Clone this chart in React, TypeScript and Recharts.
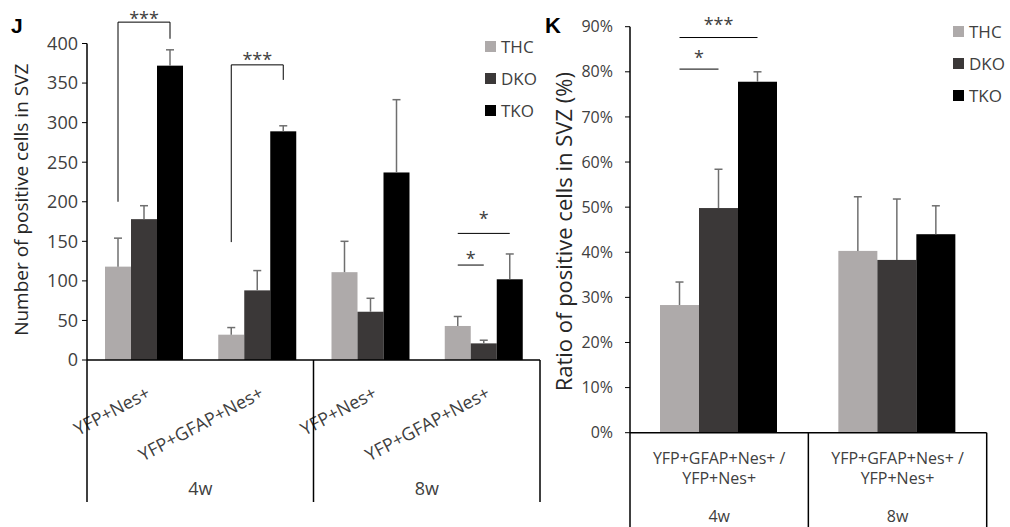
import React from 'react';
import { Bar, BarChart, Legend, XAxis, YAxis } from 'recharts';

// ---- panel J: cell counts ----
const jCats = ['YFP+Nes+', 'YFP+GFAP+Nes+', 'YFP+Nes+', 'YFP+GFAP+Nes+'];
const jWeeks = ['4w', '4w', '8w', '8w'];
const jThc = [118, 32, 111, 43];
const jThcErr = [36, 9, 39, 12];
const jDko = [178, 88, 61, 21];
const jDkoErr = [17, 25, 17, 4];
const jTko = [372, 289, 237, 102];
const jTkoErr = [20, 7, 92, 32];
const jTicks = [0, 50, 100, 150, 200, 250, 300, 350, 400];

// ---- panel K: ratio (%) ----
const kCats = ['YFP+GFAP+Nes+ / YFP+Nes+', 'YFP+GFAP+Nes+ / YFP+Nes+'];
const kWeeks = ['4w', '8w'];
const kThc = [28.3, 40.3];
const kThcErr = [5.1, 12.0];
const kDko = [49.8, 38.3];
const kDkoErr = [8.6, 13.5];
const kTko = [77.8, 44.0];
const kTkoErr = [2.2, 6.3];
const kTicks = [0, 10, 20, 30, 40, 50, 60, 70, 80, 90];

const seriesNames = ['THC', 'DKO', 'TKO'];
const seriesColors = ['#aeaaaa', '#3b3838', '#000000'];

// significance marks: bar index within group (0 THC .. 2 TKO), levels in data units
type Note = { idx: number; from: number; to: number; left: number; top: number; right: number; text: string; textAt: number };
const jNotes: Note[] = [
  { idx: 0, from: 0, to: 2, left: 200, top: 427, right: 406, text: '***', textAt: 436 },
  { idx: 1, from: 0, to: 2, left: 149, top: 373, right: 354, text: '***', textAt: 384 },
  { idx: 3, from: 0, to: 1, left: 120, top: 120, right: 120, text: '*', textAt: 133 },
  { idx: 3, from: 0, to: 2, left: 160, top: 160, right: 160, text: '*', textAt: 183 },
];
const kNotes: Note[] = [
  { idx: 0, from: 0, to: 1, left: 80.6, top: 80.6, right: 80.6, text: '*', textAt: 84 },
  { idx: 0, from: 0, to: 2, left: 87.6, top: 87.6, right: 87.6, text: '***', textAt: 91.3 },
];

const jIds = jCats.map((c, i) => `${jWeeks[i]} ${c}`);
const kIds = kCats.map((c, i) => `${kWeeks[i]} ${c}`);

const jData = jIds.map((id, i) => ({
  id, thc: jThc[i], dko: jDko[i], tko: jTko[i],
}));
const kData = kIds.map((id, i) => ({
  id, thc: kThc[i], dko: kDko[i], tko: kTko[i],
}));

const TEXT = '#404040';
const ERR = '#6f6f6f';

// layout
const J_W = 545;
const J_H = 527;
const J_TOP = 43.5;
const J_YW = 87;
const J_RIGHT = 5;
const J_XH = 167;
const J_BAND = (J_W - J_YW - J_RIGHT) / jCats.length;

const K_W = 470;
const K_H = 527;
const K_TOP = 26.7;
const K_YW = 90;
const K_RIGHT = 23.3;
const K_XH = 94.3;
const K_BAND = (K_W - K_YW - K_RIGHT) / kCats.length;

function makeShape(vals: number[], errs: number[], ids: string[], notes: Note[] | null) {
  return (props: any) => {
    const { x, y, width, height, fill, payload } = props;
    const i = typeof props.index === 'number' ? props.index : ids.indexOf(payload?.id);
    const v = vals[i];
    const per = v ? height / v : 0;
    const base = y + height;
    const cx = x + width / 2;
    const ey = y - errs[i] * per;
    const toY = (val: number) => base - val * per;
    const mine = notes ? notes.filter((n) => n.idx === i) : [];
    return (
      <g>
        <rect x={x} y={y} width={width} height={height} fill={fill} />
        <line x1={cx} x2={cx} y1={y} y2={ey} stroke={ERR} strokeWidth={1.5} />
        <line x1={cx - 4} x2={cx + 4} y1={ey} y2={ey} stroke={ERR} strokeWidth={1.5} />
        {mine.map((n, k) => {
          const x1 = cx - (2 - n.from) * width;
          const x2 = cx - (2 - n.to) * width;
          return (
            <g key={k}>
              <path
                d={`M${x1},${toY(n.left)}V${toY(n.top)}H${x2}V${toY(n.right)}`}
                fill="none"
                stroke="#000"
                strokeWidth={1}
              />
              <text x={(x1 + x2) / 2} y={toY(n.textAt) + 10} textAnchor="middle" fontSize={18} fill={TEXT}>
                {n.text}
              </text>
            </g>
          );
        })}
      </g>
    );
  };
}

function LegendBox({ payload }: any) {
  const items = seriesNames.map((s, i) => {
    const hit = (payload ?? []).find((e: any) => e.value === s);
    return { value: s, color: hit?.color ?? seriesColors[i] };
  });
  return (
    <div>
      {items.map((e) => (
        <div key={e.value} style={{ display: 'flex', alignItems: 'center', height: 32, fontSize: 17, color: TEXT }}>
          <span style={{ display: 'inline-block', width: 11, height: 11, background: e.color, marginRight: 5 }} />
          {e.value}
        </div>
      ))}
    </div>
  );
}

function yTitle(text: string, x: number, fontSize: number, dy: number) {
  return (p: any) => {
    const vb = p.viewBox ?? {};
    const cy = (vb.y ?? 0) + (vb.height ?? 0) / 2 + dy;
    return (
      <text x={x} y={cy} transform={`rotate(-90 ${x} ${cy})`} textAnchor="middle" fontSize={fontSize} fill="#262626">
        {text}
      </text>
    );
  };
}

function groupInfo(weeks: string[], i: number) {
  const first = i === 0 || weeks[i] !== weeks[i - 1];
  let count = 0;
  for (let k = i; k < weeks.length && weeks[k] === weeks[i]; k++) count++;
  return { first, count, last: i === weeks.length - 1 };
}

function JTick(props: any) {
  const { x, y, payload } = props;
  const i = jIds.indexOf(payload.value);
  if (i < 0) return null;
  const half = J_BAND / 2;
  const ax = x + 8;
  const ay = y + 37;
  const g = groupInfo(jWeeks, i);
  return (
    <g>
      <text x={ax} y={ay} textAnchor="end" transform={`rotate(-28 ${ax} ${ay})`} fontSize={18} fill={TEXT}>
        {jCats[i]}
      </text>
      {g.first && <line x1={x - half} x2={x - half} y1={y} y2={y + 142} stroke="#000" strokeWidth={1.5} />}
      {g.first && (
        <text x={x - half + (g.count * J_BAND) / 2} y={y + 135} textAnchor="middle" fontSize={18} fill={TEXT}>
          {jWeeks[i]}
        </text>
      )}
      {g.last && <line x1={x + half} x2={x + half} y1={y} y2={y + 142} stroke="#000" strokeWidth={1.5} />}
    </g>
  );
}

function KTick(props: any) {
  const { x, y, payload } = props;
  const i = kIds.indexOf(payload.value);
  if (i < 0) return null;
  const half = K_BAND / 2;
  const [l1, l2] = kCats[i].split('/ ');
  return (
    <g>
      <text x={x} y={y + 31} textAnchor="middle" fontSize={16} fill={TEXT}>{l1.trim() + ' /'}</text>
      <text x={x} y={y + 51.5} textAnchor="middle" fontSize={16} fill={TEXT}>{l2}</text>
      <text x={x} y={y + 89} textAnchor="middle" fontSize={16} fill={TEXT}>{kWeeks[i]}</text>
      {i === 0 && <line x1={x - half} x2={x - half} y1={y} y2={y + 100} stroke="#000" strokeWidth={1.5} />}
      <line x1={x + half} x2={x + half} y1={y} y2={y + 100} stroke="#000" strokeWidth={1.5} />
    </g>
  );
}

const jShapes = [
  makeShape(jThc, jThcErr, jIds, null),
  makeShape(jDko, jDkoErr, jIds, null),
  makeShape(jTko, jTkoErr, jIds, jNotes),
];
const kShapes = [
  makeShape(kThc, kThcErr, kIds, null),
  makeShape(kDko, kDkoErr, kIds, null),
  makeShape(kTko, kTkoErr, kIds, kNotes),
];
const keys = ['thc', 'dko', 'tko'];

export default function App() {
  return (
    <div
      style={{
        position: 'absolute',
        left: 0,
        top: 0,
        width: 1010,
        height: 527,
        background: '#fff',
        fontFamily: "'Open Sans', sans-serif",
        overflow: 'hidden',
      }}
    >
      <div style={{ position: 'absolute', left: 0, top: 0 }}>
        <BarChart
          width={J_W}
          height={J_H}
          data={jData}
          margin={{ top: J_TOP, right: J_RIGHT, bottom: 0, left: 0 }}
          barCategoryGap={18}
          barGap={0}
        >
          <XAxis
            dataKey="id"
            height={J_XH}
            interval={0}
            tickLine={false}
            tickSize={0}
            tickMargin={0}
            axisLine={{ stroke: '#000', strokeWidth: 1.5 }}
            tick={(p: any) => <JTick {...p} />}
          />
          <YAxis
            domain={[0, 400]}
            ticks={jTicks}
            interval={0}
            width={J_YW}
            tickSize={5}
            tickMargin={4}
            axisLine={{ stroke: '#000', strokeWidth: 1.5 }}
            tickLine={{ stroke: '#000' }}
            tick={{ fill: TEXT, fontSize: 18 }}
            label={{ content: yTitle('Number of positive cells in SVZ', 28, 19, -2) }}
          />
          <Legend
            layout="horizontal"
            verticalAlign="middle"
            align="center"
            content={<LegendBox />}
            wrapperStyle={{ left: 485, top: 30, width: 'auto', height: 'auto' }}
          />
          {keys.map((k, s) => (
            <Bar
              key={k}
              dataKey={k}
              name={seriesNames[s]}
              fill={seriesColors[s]}
              shape={jShapes[s]}
              isAnimationActive={false}
            />
          ))}
        </BarChart>
      </div>
      <div style={{ position: 'absolute', left: 540, top: 0 }}>
        <BarChart
          width={K_W}
          height={K_H}
          data={kData}
          margin={{ top: K_TOP, right: K_RIGHT, bottom: 0, left: 0 }}
          barCategoryGap={30}
          barGap={0}
        >
          <XAxis
            dataKey="id"
            height={K_XH}
            interval={0}
            tickLine={false}
            tickSize={0}
            tickMargin={0}
            axisLine={{ stroke: '#000', strokeWidth: 1.5 }}
            tick={(p: any) => <KTick {...p} />}
          />
          <YAxis
            domain={[0, 90]}
            ticks={kTicks}
            interval={0}
            width={K_YW}
            tickSize={5}
            tickMargin={12}
            tickFormatter={(v: number) => `${v}%`}
            axisLine={{ stroke: '#000', strokeWidth: 1.5 }}
            tickLine={{ stroke: '#000' }}
            tick={{ fill: TEXT, fontSize: 16 }}
            label={{ content: yTitle('Ratio of positive cells in SVZ (%)', 32, 22, 2) }}
          />
          <Legend
            layout="horizontal"
            verticalAlign="middle"
            align="center"
            content={<LegendBox />}
            wrapperStyle={{ left: 413, top: 15, width: 'auto', height: 'auto' }}
          />
          {keys.map((k, s) => (
            <Bar
              key={k}
              dataKey={k}
              name={seriesNames[s]}
              fill={seriesColors[s]}
              shape={kShapes[s]}
              isAnimationActive={false}
            />
          ))}
        </BarChart>
      </div>
      <svg width={1010} height={527} style={{ position: 'absolute', left: 0, top: 0, pointerEvents: 'none' }}>
        <text x={11} y={33} fontFamily="'Liberation Sans', sans-serif" fontWeight="bold" fontSize={21} fill="#000">J</text>
        <text x={545} y={33} fontFamily="'Liberation Sans', sans-serif" fontWeight="bold" fontSize={22} fill="#000">K</text>
      </svg>
    </div>
  );
}
